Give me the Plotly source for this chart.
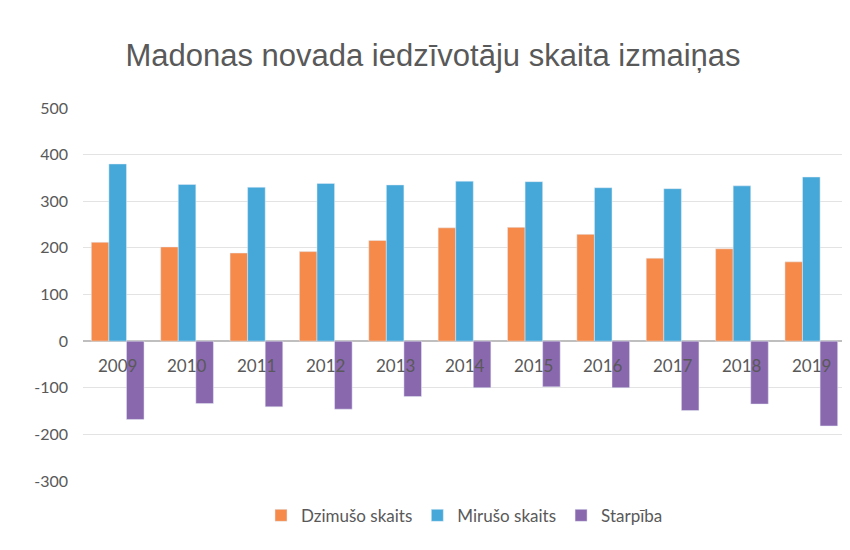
import plotly.graph_objects as go

years = ["2009", "2010", "2011", "2012", "2013", "2014", "2015", "2016", "2017", "2018", "2019"]
dzimuso = [212, 202, 189, 192, 216, 243, 244, 229, 178, 198, 170]
miruso = [380, 336, 330, 338, 335, 343, 342, 329, 327, 333, 352]
starpiba = [d - m for d, m in zip(dzimuso, miruso)]

title = "Madonas novada iedzīvotāju skaita izmaiņas"
yticks = [-300, -200, -100, 0, 100, 200, 300, 400, 500]
ytick_labels = [str(v).replace("\u2212", "-") for v in yticks]

font_main = "Lato, 'Open Sans', sans-serif"
grey = "#595959"

fig = go.Figure()
fig.add_trace(go.Bar(name="Dzimušo skaits", x=years, y=dzimuso, marker_color="#F58A4B"))
fig.add_trace(go.Bar(name="Mirušo skaits", x=years, y=miruso, marker_color="#45A8D8"))
fig.add_trace(go.Bar(name="Starpība", x=years, y=starpiba, marker_color="#8A68AE"))

for i, yr in enumerate(years):
    fig.add_annotation(x=i, y=0, xref="x", yref="y", text=yr, showarrow=False,
                       yanchor="top", yshift=-12, font=dict(size=17, color=grey, family=font_main))

fig.update_layout(
    width=850, height=550,
    paper_bgcolor="white", plot_bgcolor="white",
    margin=dict(l=75, r=12, t=100, b=77),
    title=dict(text=title, x=0.5, xanchor="center", y=0.915, yanchor="middle",
               font=dict(size=31, color=grey, family="'Liberation Sans', Arial, sans-serif")),
    barmode="group", bargap=0.24, bargroupgap=0,
    showlegend=True,
    legend=dict(orientation="h", x=0.5, xanchor="center", y=-0.045, yanchor="top",
                font=dict(size=17, color=grey, family=font_main), itemwidth=30,
                traceorder="normal"),
    font=dict(family=font_main, color=grey),
)
fig.update_xaxes(type="category", range=[-0.5, len(years) - 0.5], showticklabels=False,
                 showgrid=False, zeroline=False, showline=False, ticks="")
fig.update_yaxes(range=[-300, 500], tickvals=yticks, ticktext=ytick_labels,
                 showgrid=True, gridcolor="#E3E3E3", gridwidth=1,
                 zeroline=True, zerolinecolor="#BFBFBF", zerolinewidth=1.5,
                 tickfont=dict(size=16, color=grey, family=font_main), ticklabelstandoff=14)

fig.write_html("out.html")
